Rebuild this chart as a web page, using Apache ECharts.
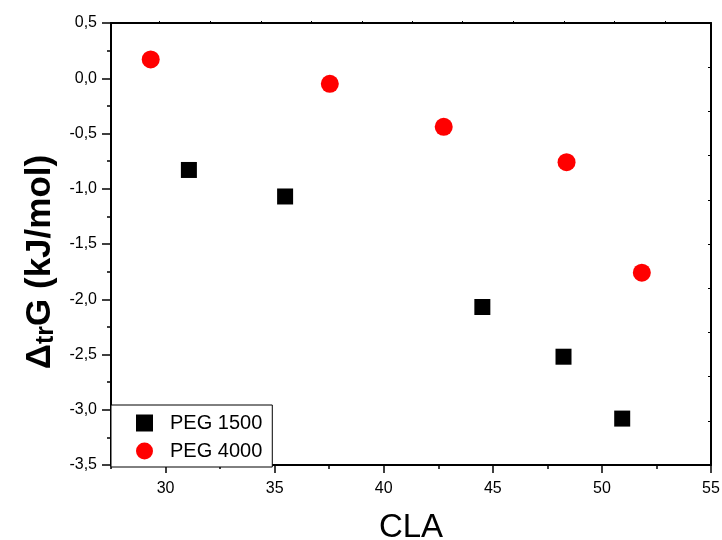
<!DOCTYPE html>
<html>
<head>
<meta charset="utf-8">
<script src="https://cdn.jsdelivr.net/npm/echarts@6/dist/echarts.min.js"></script>
<style>
	html, body { margin: 0; padding: 0; background: #fff; }
	#chart { width: 722px; height: 540px; }
</style>
</head>
<body>
<div id="chart"></div>
<script>
	// 数据
	const peg1500X = [31.07, 35.48, 44.52, 48.24, 50.93];
	const peg1500Y = [-0.83, -1.07, -2.07, -2.52, -3.08];
	const peg4000X = [29.32, 37.53, 42.75, 48.38, 51.83];
	const peg4000Y = [0.17, -0.05, -0.44, -0.76, -1.76];

	const seriesNames = ["PEG 1500", "PEG 4000"];
	const xMajorTicks = [30, 35, 40, 45, 50, 55];
	const xMinorTicks = [27.5, 32.5, 37.5, 42.5, 47.5, 52.5];
	const topTicks = [29.7, 32.03, 34.37, 36.66, 39.0, 41.33, 43.62, 45.95, 48.29, 50.58, 52.91];

	const font = "Liberation Sans, Arial, Helvetica, sans-serif";
	const chart = echarts.init(document.getElementById("chart"));

	const toPairs = (xs, ys) => xs.map((x, i) => [x, ys[i]]);

	const option = {
		animation: false,
		backgroundColor: "#fff",
		grid: { left: 111, right: 11, top: 23, bottom: 75, containLabel: false, outerBoundsMode: "none" },
		legend: {
			orient: "vertical",
			left: 111,
			top: 405,
			data: seriesNames,
			itemWidth: 17,
			itemHeight: 17,
			itemGap: 8,
			padding: [8, 10, 6, 25],
			borderColor: "#000",
			borderWidth: 1,
			backgroundColor: "#fff",
			textStyle: { fontFamily: font, fontSize: 20, color: "#000", padding: [0, 0, 0, 12] }
		},
		xAxis: [
			{
				type: "value",
				min: 27.5,
				max: 55,
				interval: 2.5,
				position: "bottom",
				splitLine: { show: false },
				axisLine: { onZero: false, lineStyle: { color: "#000", width: 2 } },
				axisTick: { customValues: xMajorTicks, length: 8, lineStyle: { color: "#000", width: 1.5 } },
				axisLabel: { customValues: xMajorTicks, margin: 16, fontFamily: font, fontSize: 16, color: "#000" },
				name: "CLA",
				nameLocation: "middle",
				nameGap: 46,
				nameTextStyle: { fontFamily: font, fontSize: 33, color: "#000" }
			},
			{
				// 次刻度
				type: "value",
				min: 27.5,
				max: 55,
				position: "bottom",
				splitLine: { show: false },
				axisLine: { show: false, onZero: false },
				axisTick: { customValues: xMinorTicks, length: 4, lineStyle: { color: "#000", width: 1.5 } },
				axisLabel: { show: false }
			},
			{
				// 顶部轴
				type: "value",
				min: 27.5,
				max: 55,
				position: "top",
				splitLine: { show: false },
				axisLine: { onZero: false, lineStyle: { color: "#000", width: 2 } },
				axisTick: { customValues: topTicks, length: 2, lineStyle: { color: "#000", width: 1 } },
				axisLabel: { show: false }
			}
		],
		yAxis: [
			{
				type: "value",
				min: -3.5,
				max: 0.5,
				interval: 0.5,
				position: "left",
				splitLine: { show: false },
				axisLine: { onZero: false, lineStyle: { color: "#000", width: 2 } },
				axisTick: { length: 9, lineStyle: { color: "#000", width: 1.5 } },
				minorTick: { show: true, splitNumber: 2, length: 4, lineStyle: { color: "#000", width: 1.5 } },
				axisLabel: {
					margin: 14,
					fontFamily: font,
					fontSize: 16,
					color: "#000",
					formatter: (v) => v.toFixed(1).replace(".", ",")
				}
			},
			{
				// 右侧轴
				type: "value",
				min: 0,
				max: 10,
				interval: 1,
				position: "right",
				splitLine: { show: false },
				axisLine: { onZero: false, lineStyle: { color: "#000", width: 2 } },
				axisTick: { inside: true, length: 3, lineStyle: { color: "#000", width: 1 } },
				axisLabel: { show: false }
			}
		],
		graphic: [
			{
				type: "text",
				rotation: Math.PI / 2,
				x: 40,
				y: 262,
				style: {
					text: "{a|Δ}{s|tr}{a|G (kJ/mol)}",
					align: "center",
					verticalAlign: "middle",
					rich: {
						a: { fontFamily: font, fontSize: 35, fontWeight: "bold", color: "#000" },
						s: { fontFamily: font, fontSize: 25, fontWeight: "bold", color: "#000", padding: [12, 0, 0, 0] }
					}
				}
			}
		],
		series: [
			{
				name: seriesNames[0],
				type: "scatter",
				symbol: "rect",
				symbolSize: 16,
				itemStyle: { color: "#000", opacity: 1 },
				data: toPairs(peg1500X, peg1500Y),
				z: 3
			},
			{
				name: seriesNames[1],
				type: "scatter",
				symbol: "circle",
				symbolSize: 18,
				itemStyle: { color: "#ff0000", opacity: 1 },
				data: toPairs(peg4000X, peg4000Y),
				z: 3
			}
		]
	};

	chart.setOption(option);
</script>
</body>
</html>
